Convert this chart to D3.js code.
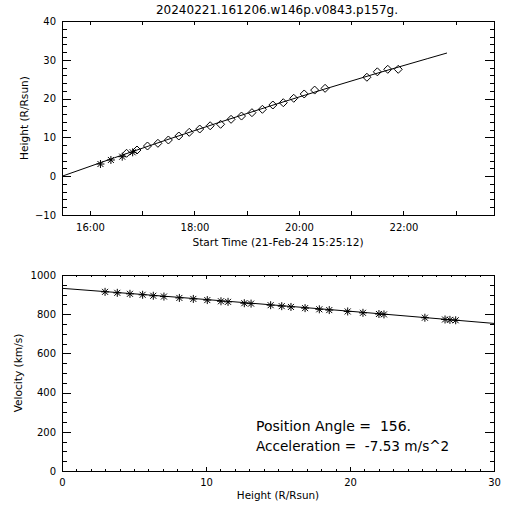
<!DOCTYPE html>
<html><head><meta charset="utf-8">
<script src="https://cdn.jsdelivr.net/npm/d3@7"></script>
<style>
body{margin:0;background:#fff}
svg{display:block}
text{font-family:"DejaVu Sans",sans-serif;fill:#000;white-space:pre}
</style>
</head><body>
<svg id="c" width="512" height="512"></svg>
<script>
// ---------- data ----------
const titleText = "20240221.161206.w146p.v0843.p157g.";
const xTitleTop = "Start Time (21-Feb-24 15:25:12)";
const yTitleTop = "Height (R/Rsun)";
const xTitleBot = "Height (R/Rsun)";
const yTitleBot = "Velocity (km/s)";
const annotPA = "Position Angle =  156.";
const annotAcc = "Acceleration =  -7.53 m/s^2";

const timeDomain = ["15:27:50", "23:44:00"];
const heightDomain = [-10, 40];
const velHeightDomain = [0, 30];
const velDomain = [0, 1000];

// C2 (asterisks) and C3 (diamonds) height-time points
const c2Times = ["16:12", "16:24", "16:37", "16:49"];
const c2Heights = [3.14, 4.18, 5.03, 6.16];
const c3Times = ["16:42","16:54","17:06","17:18","17:30","17:42","17:54","18:06","18:18","18:30","18:42","18:54",
                 "19:06","19:18","19:30","19:42","19:54","20:06","20:18","20:30","21:18","21:30","21:42","21:54"];
const c3Heights = [5.9, 6.75, 7.78, 8.48, 9.33, 10.36, 11.31, 12.16, 13.0, 13.38, 14.66, 15.5,
                   16.37, 17.24, 18.35, 18.94, 20.08, 21.19, 22.2, 22.65, 25.5, 26.9, 27.55, 27.55];

// fitted height-time curve
const fitTimes = ["15:28","16:28","17:28","18:28","19:28","20:28","21:28","22:28","22:50"];
const fitHeights = [0, 4.75, 9.36, 13.83, 18.17, 22.36, 26.42, 30.33, 31.75];

// velocity points (asterisks)
const velHeights = [2.99, 3.84, 4.72, 5.6, 6.34, 7.08, 8.15, 9.12, 10.09, 11.04, 11.53, 12.66, 13.13, 14.49,
                    15.26, 15.9, 16.88, 17.87, 18.56, 19.84, 20.9, 22.01, 22.36, 25.2, 26.6, 26.94, 27.34];
const velValues = [914, 909, 904, 899, 894, 890, 883, 878, 872, 866, 863, 856, 854, 846,
                   841, 837, 831, 825, 821, 814, 807, 801, 799, 782, 773, 771, 769];

// fitted velocity curve
const fitVelHeights = [0, 5, 10, 15, 20, 25, 30];
const fitVelValues = [932, 904, 875, 845, 815, 784, 753];

// tick labels
const timeTickLabels = ["16:00", "18:00", "20:00", "22:00"];

// ---------- drawing ----------
const svg = d3.select("#c");
const parseT = s => d3.timeParse("%Y-%m-%d %H:%M:%S")("2024-02-21 " + (s.length === 5 ? s + ":00" : s));
const fmtT = d3.timeFormat("%H:%M");

const L = 62, R = 494;
const topY0 = 21, topY1 = 215;
const botY0 = 275, botY1 = 471;

const xT = d3.scaleTime().domain(timeDomain.map(parseT)).range([L, R]);
const yT = d3.scaleLinear().domain(heightDomain).range([topY1, topY0]);
const xB = d3.scaleLinear().domain(velHeightDomain).range([L, R]);
const yB = d3.scaleLinear().domain(velDomain).range([botY1, botY0]);

function styleAxis(g) {
  g.select(".domain").remove();
  g.selectAll("line").attr("stroke", "#000").attr("shape-rendering", "crispEdges");
  g.selectAll("text").attr("font-size", 10).attr("font-family", "DejaVu Sans, sans-serif").attr("fill", "#000");
}

// ---- top panel ----
const gT = svg.append("g");
const hourTicks = xT.ticks(d3.timeHour.every(1));
gT.append("g").attr("transform", `translate(0,${topY1})`)
  .call(d3.axisBottom(xT).tickValues(hourTicks).tickSizeInner(-4).tickSizeOuter(0).tickPadding(9)
    .tickFormat(d => timeTickLabels.includes(fmtT(d)) ? fmtT(d) : ""))
  .call(styleAxis);
gT.append("g").attr("transform", `translate(0,${topY0})`)
  .call(d3.axisTop(xT).tickValues(hourTicks).tickSizeInner(-4).tickSizeOuter(0).tickFormat(""))
  .call(styleAxis);
gT.append("g").attr("transform", `translate(${L},0)`)
  .call(d3.axisLeft(yT).ticks(5).tickSizeInner(-9).tickSizeOuter(0).tickPadding(6).tickFormat(d3.format("d")))
  .call(styleAxis);
gT.append("g").attr("transform", `translate(${L},0)`)
  .call(d3.axisLeft(yT).ticks(25).tickSizeInner(-4.5).tickSizeOuter(0).tickFormat(""))
  .call(styleAxis);
gT.append("g").attr("transform", `translate(${R},0)`)
  .call(d3.axisRight(yT).ticks(5).tickSizeInner(-9).tickSizeOuter(0).tickFormat(""))
  .call(styleAxis);
gT.append("g").attr("transform", `translate(${R},0)`)
  .call(d3.axisRight(yT).ticks(25).tickSizeInner(-4.5).tickSizeOuter(0).tickFormat(""))
  .call(styleAxis);
gT.append("rect").attr("x", L).attr("y", topY0).attr("width", R - L).attr("height", topY1 - topY0)
  .attr("fill", "none").attr("stroke", "#000").attr("shape-rendering", "crispEdges");

const fitLineT = d3.line().x((d, i) => xT(parseT(fitTimes[i]))).y((d) => yT(d));
gT.append("path").attr("d", fitLineT(fitHeights)).attr("fill", "none").attr("stroke", "#000").attr("stroke-width", 1);

const asterisk = r => {
  const k = r * 0.75;
  return `M${-r},0H${r}M0,${-r}V${r}M${-k},${-k}L${k},${k}M${-k},${k}L${k},${-k}`;
};
const diamond = r => `M0,${-r}L${r},0L0,${r}L${-r},0Z`;

gT.selectAll("path.c2").data(c2Heights).join("path").attr("class", "c2")
  .attr("transform", (d, i) => `translate(${xT(parseT(c2Times[i]))},${yT(d)})`)
  .attr("d", asterisk(4)).attr("fill", "none").attr("stroke", "#000").attr("stroke-width", 1);
gT.selectAll("path.c3").data(c3Heights).join("path").attr("class", "c3")
  .attr("transform", (d, i) => `translate(${xT(parseT(c3Times[i]))},${yT(d)})`)
  .attr("d", diamond(4)).attr("fill", "none").attr("stroke", "#000").attr("stroke-width", 1);

svg.append("text").attr("x", 277).attr("y", 14).attr("text-anchor", "middle").attr("font-size", 12).text(titleText);
svg.append("text").attr("x", 278).attr("y", 246).attr("text-anchor", "middle").attr("font-size", 10.6).text(xTitleTop);
svg.append("text").attr("transform", `translate(28,${(topY0 + topY1) / 2}) rotate(-90)`)
  .attr("text-anchor", "middle").attr("font-size", 10.6).text(yTitleTop);

// ---- bottom panel ----
const gB = svg.append("g");
gB.append("g").attr("transform", `translate(0,${botY1})`)
  .call(d3.axisBottom(xB).ticks(3).tickSizeInner(-4).tickSizeOuter(0).tickPadding(8))
  .call(styleAxis);
gB.append("g").attr("transform", `translate(0,${botY1})`)
  .call(d3.axisBottom(xB).ticks(30).tickSizeInner(-2).tickSizeOuter(0).tickFormat(""))
  .call(styleAxis);
gB.append("g").attr("transform", `translate(0,${botY0})`)
  .call(d3.axisTop(xB).ticks(3).tickSizeInner(-4).tickSizeOuter(0).tickFormat(""))
  .call(styleAxis);
gB.append("g").attr("transform", `translate(0,${botY0})`)
  .call(d3.axisTop(xB).ticks(30).tickSizeInner(-2).tickSizeOuter(0).tickFormat(""))
  .call(styleAxis);
gB.append("g").attr("transform", `translate(${L},0)`)
  .call(d3.axisLeft(yB).ticks(5).tickSizeInner(-9).tickSizeOuter(0).tickPadding(6).tickFormat(d3.format("d")))
  .call(styleAxis);
gB.append("g").attr("transform", `translate(${L},0)`)
  .call(d3.axisLeft(yB).ticks(20).tickSizeInner(-4.5).tickSizeOuter(0).tickFormat(""))
  .call(styleAxis);
gB.append("g").attr("transform", `translate(${R},0)`)
  .call(d3.axisRight(yB).ticks(5).tickSizeInner(-9).tickSizeOuter(0).tickFormat(""))
  .call(styleAxis);
gB.append("g").attr("transform", `translate(${R},0)`)
  .call(d3.axisRight(yB).ticks(20).tickSizeInner(-4.5).tickSizeOuter(0).tickFormat(""))
  .call(styleAxis);
gB.append("rect").attr("x", L).attr("y", botY0).attr("width", R - L).attr("height", botY1 - botY0)
  .attr("fill", "none").attr("stroke", "#000").attr("shape-rendering", "crispEdges");

const fitLineB = d3.line().x((d, i) => xB(fitVelHeights[i])).y(d => yB(d));
gB.append("path").attr("d", fitLineB(fitVelValues)).attr("fill", "none").attr("stroke", "#000").attr("stroke-width", 1);

gB.selectAll("path.v").data(velValues).join("path").attr("class", "v")
  .attr("transform", (d, i) => `translate(${xB(velHeights[i])},${yB(d)})`)
  .attr("d", asterisk(4)).attr("fill", "none").attr("stroke", "#000").attr("stroke-width", 1);

svg.append("text").attr("x", 278).attr("y", 499).attr("text-anchor", "middle").attr("font-size", 10.4).text(xTitleBot);
svg.append("text").attr("transform", `translate(22,${(botY0 + botY1) / 2}) rotate(-90)`)
  .attr("text-anchor", "middle").attr("font-size", 10.6).text(yTitleBot);

svg.append("text").attr("x", 256).attr("y", 430.5).attr("font-size", 14).attr("xml:space", "preserve").text(annotPA);
svg.append("text").attr("x", 256).attr("y", 450.5).attr("font-size", 13.6).attr("xml:space", "preserve").text(annotAcc);
</script>
</body></html>
